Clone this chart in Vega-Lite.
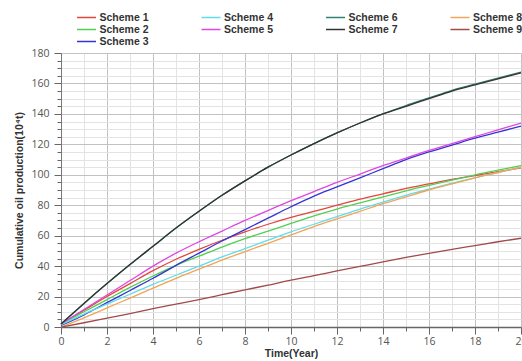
{
  "$schema": "https://vega.github.io/schema/vega-lite/v6.json",
  "width": 460,
  "height": 274,
  "autosize": {"type": "none"},
  "padding": {"left": 61, "top": 53, "right": 1, "bottom": 34},
  "background": "white",
  "config": {"view": {"stroke": null}, "font": "Open Sans"},
  "datasets": {
    "curves": [
      {"s":"Scheme 1","t":0,"v":2},{"s":"Scheme 1","t":1,"v":11},{"s":"Scheme 1","t":2,"v":20},{"s":"Scheme 1","t":3,"v":28.5},{"s":"Scheme 1","t":4,"v":37},{"s":"Scheme 1","t":5,"v":44.5},{"s":"Scheme 1","t":6,"v":51},{"s":"Scheme 1","t":7,"v":57},{"s":"Scheme 1","t":8,"v":62.5},{"s":"Scheme 1","t":9,"v":67.5},{"s":"Scheme 1","t":10,"v":72},{"s":"Scheme 1","t":11,"v":76},{"s":"Scheme 1","t":12,"v":80},{"s":"Scheme 1","t":13,"v":84},{"s":"Scheme 1","t":14,"v":87.5},{"s":"Scheme 1","t":15,"v":91},{"s":"Scheme 1","t":16,"v":94},{"s":"Scheme 1","t":17,"v":97},{"s":"Scheme 1","t":18,"v":99.5},{"s":"Scheme 1","t":19,"v":102},{"s":"Scheme 1","t":20,"v":104.5},
      {"s":"Scheme 2","t":0,"v":2},{"s":"Scheme 2","t":1,"v":10},{"s":"Scheme 2","t":2,"v":18},{"s":"Scheme 2","t":3,"v":26},{"s":"Scheme 2","t":4,"v":33.5},{"s":"Scheme 2","t":5,"v":40.5},{"s":"Scheme 2","t":6,"v":46.5},{"s":"Scheme 2","t":7,"v":52.5},{"s":"Scheme 2","t":8,"v":58},{"s":"Scheme 2","t":9,"v":63},{"s":"Scheme 2","t":10,"v":68},{"s":"Scheme 2","t":11,"v":73},{"s":"Scheme 2","t":12,"v":77.5},{"s":"Scheme 2","t":13,"v":81.5},{"s":"Scheme 2","t":14,"v":85.5},{"s":"Scheme 2","t":15,"v":89.5},{"s":"Scheme 2","t":16,"v":93},{"s":"Scheme 2","t":17,"v":96.5},{"s":"Scheme 2","t":18,"v":100},{"s":"Scheme 2","t":19,"v":103},{"s":"Scheme 2","t":20,"v":106},
      {"s":"Scheme 3","t":0,"v":1},{"s":"Scheme 3","t":1,"v":8},{"s":"Scheme 3","t":2,"v":16},{"s":"Scheme 3","t":3,"v":24},{"s":"Scheme 3","t":4,"v":32},{"s":"Scheme 3","t":5,"v":40.5},{"s":"Scheme 3","t":6,"v":48.5},{"s":"Scheme 3","t":7,"v":56.5},{"s":"Scheme 3","t":8,"v":64},{"s":"Scheme 3","t":9,"v":71.5},{"s":"Scheme 3","t":10,"v":79},{"s":"Scheme 3","t":11,"v":86},{"s":"Scheme 3","t":12,"v":92},{"s":"Scheme 3","t":13,"v":98},{"s":"Scheme 3","t":14,"v":104},{"s":"Scheme 3","t":15,"v":110},{"s":"Scheme 3","t":16,"v":115},{"s":"Scheme 3","t":17,"v":119.5},{"s":"Scheme 3","t":18,"v":124},{"s":"Scheme 3","t":19,"v":128},{"s":"Scheme 3","t":20,"v":132},
      {"s":"Scheme 4","t":0,"v":1.5},{"s":"Scheme 4","t":1,"v":8.5},{"s":"Scheme 4","t":2,"v":15},{"s":"Scheme 4","t":3,"v":21.5},{"s":"Scheme 4","t":4,"v":28},{"s":"Scheme 4","t":5,"v":34},{"s":"Scheme 4","t":6,"v":40},{"s":"Scheme 4","t":7,"v":46},{"s":"Scheme 4","t":8,"v":51.5},{"s":"Scheme 4","t":9,"v":57},{"s":"Scheme 4","t":10,"v":62.5},{"s":"Scheme 4","t":11,"v":67.5},{"s":"Scheme 4","t":12,"v":72.5},{"s":"Scheme 4","t":13,"v":77.5},{"s":"Scheme 4","t":14,"v":82},{"s":"Scheme 4","t":15,"v":86.5},{"s":"Scheme 4","t":16,"v":90.5},{"s":"Scheme 4","t":17,"v":94.5},{"s":"Scheme 4","t":18,"v":98},{"s":"Scheme 4","t":19,"v":101.5},{"s":"Scheme 4","t":20,"v":105},
      {"s":"Scheme 5","t":0,"v":2},{"s":"Scheme 5","t":1,"v":11.5},{"s":"Scheme 5","t":2,"v":21},{"s":"Scheme 5","t":3,"v":30.5},{"s":"Scheme 5","t":4,"v":40},{"s":"Scheme 5","t":5,"v":48.5},{"s":"Scheme 5","t":6,"v":56},{"s":"Scheme 5","t":7,"v":63},{"s":"Scheme 5","t":8,"v":70},{"s":"Scheme 5","t":9,"v":76.5},{"s":"Scheme 5","t":10,"v":83},{"s":"Scheme 5","t":11,"v":89},{"s":"Scheme 5","t":12,"v":95},{"s":"Scheme 5","t":13,"v":100.5},{"s":"Scheme 5","t":14,"v":106},{"s":"Scheme 5","t":15,"v":111},{"s":"Scheme 5","t":16,"v":116},{"s":"Scheme 5","t":17,"v":120.5},{"s":"Scheme 5","t":18,"v":125},{"s":"Scheme 5","t":19,"v":129.5},{"s":"Scheme 5","t":20,"v":134},
      {"s":"Scheme 6","t":0,"v":2},{"s":"Scheme 6","t":1,"v":15.5},{"s":"Scheme 6","t":2,"v":28.5},{"s":"Scheme 6","t":3,"v":41},{"s":"Scheme 6","t":4,"v":53},{"s":"Scheme 6","t":5,"v":65},{"s":"Scheme 6","t":6,"v":76},{"s":"Scheme 6","t":7,"v":86.5},{"s":"Scheme 6","t":8,"v":96},{"s":"Scheme 6","t":9,"v":105},{"s":"Scheme 6","t":10,"v":113},{"s":"Scheme 6","t":11,"v":120.5},{"s":"Scheme 6","t":12,"v":127.5},{"s":"Scheme 6","t":13,"v":134},{"s":"Scheme 6","t":14,"v":140},{"s":"Scheme 6","t":15,"v":145.5},{"s":"Scheme 6","t":16,"v":150.5},{"s":"Scheme 6","t":17,"v":155.5},{"s":"Scheme 6","t":18,"v":159.5},{"s":"Scheme 6","t":19,"v":163.5},{"s":"Scheme 6","t":20,"v":167.5},
      {"s":"Scheme 7","t":0,"v":2},{"s":"Scheme 7","t":1,"v":15.5},{"s":"Scheme 7","t":2,"v":28.5},{"s":"Scheme 7","t":3,"v":41},{"s":"Scheme 7","t":4,"v":53},{"s":"Scheme 7","t":5,"v":65},{"s":"Scheme 7","t":6,"v":76},{"s":"Scheme 7","t":7,"v":86.5},{"s":"Scheme 7","t":8,"v":96},{"s":"Scheme 7","t":9,"v":105},{"s":"Scheme 7","t":10,"v":113},{"s":"Scheme 7","t":11,"v":120.5},{"s":"Scheme 7","t":12,"v":127.5},{"s":"Scheme 7","t":13,"v":134},{"s":"Scheme 7","t":14,"v":140},{"s":"Scheme 7","t":15,"v":145},{"s":"Scheme 7","t":16,"v":150},{"s":"Scheme 7","t":17,"v":155},{"s":"Scheme 7","t":18,"v":159},{"s":"Scheme 7","t":19,"v":163},{"s":"Scheme 7","t":20,"v":167},
      {"s":"Scheme 8","t":0,"v":0},{"s":"Scheme 8","t":1,"v":6},{"s":"Scheme 8","t":2,"v":12.5},{"s":"Scheme 8","t":3,"v":19},{"s":"Scheme 8","t":4,"v":25.5},{"s":"Scheme 8","t":5,"v":32},{"s":"Scheme 8","t":6,"v":38},{"s":"Scheme 8","t":7,"v":44},{"s":"Scheme 8","t":8,"v":49.5},{"s":"Scheme 8","t":9,"v":55},{"s":"Scheme 8","t":10,"v":60.5},{"s":"Scheme 8","t":11,"v":66},{"s":"Scheme 8","t":12,"v":71},{"s":"Scheme 8","t":13,"v":76},{"s":"Scheme 8","t":14,"v":81},{"s":"Scheme 8","t":15,"v":85.5},{"s":"Scheme 8","t":16,"v":90},{"s":"Scheme 8","t":17,"v":94},{"s":"Scheme 8","t":18,"v":98},{"s":"Scheme 8","t":19,"v":101.5},{"s":"Scheme 8","t":20,"v":105},
      {"s":"Scheme 9","t":0,"v":0},{"s":"Scheme 9","t":1,"v":2.8},{"s":"Scheme 9","t":2,"v":5.8},{"s":"Scheme 9","t":3,"v":8.8},{"s":"Scheme 9","t":4,"v":12},{"s":"Scheme 9","t":5,"v":15},{"s":"Scheme 9","t":6,"v":18},{"s":"Scheme 9","t":7,"v":21.2},{"s":"Scheme 9","t":8,"v":24.4},{"s":"Scheme 9","t":9,"v":27.5},{"s":"Scheme 9","t":10,"v":30.8},{"s":"Scheme 9","t":11,"v":33.8},{"s":"Scheme 9","t":12,"v":36.8},{"s":"Scheme 9","t":13,"v":39.8},{"s":"Scheme 9","t":14,"v":42.8},{"s":"Scheme 9","t":15,"v":45.7},{"s":"Scheme 9","t":16,"v":48.4},{"s":"Scheme 9","t":17,"v":51},{"s":"Scheme 9","t":18,"v":53.5},{"s":"Scheme 9","t":19,"v":56},{"s":"Scheme 9","t":20,"v":58.3}
    ]
  },
  "data": {"name": "curves"},
  "mark": {"type": "line", "strokeWidth": 1.3, "interpolate": "monotone"},
  "encoding": {
    "x": {"field": "t", "type": "quantitative", "scale": {"domain": [0, 20], "nice": false},
      "axis": {"orient": "bottom", "format": "d",
        "values": [0,0.5,1,1.5,2,2.5,3,3.5,4,4.5,5,5.5,6,6.5,7,7.5,8,8.5,9,9.5,10,10.5,11,11.5,12,12.5,13,13.5,14,14.5,15,15.5,16,16.5,17,17.5,18,18.5,19,19.5,20],
        "labelExpr": "datum.value % 2 === 0 ? datum.label : ''", "labelOverlap": false,
        "title": "Time(Year)", "titleFont": "Liberation Sans", "titleFontWeight": "bold", "titleFontSize": 10.5, "titleColor": "#333", "titlePadding": 2,
        "labelFont": "Open Sans", "labelFontSize": 10.5, "labelColor": "#555", "labelPadding": 2, "labelFlush": false,
        "tickSize": {"condition": {"test": "datum.value % 2 === 0", "value": 7}, "value": 4},
        "tickColor": "#666", "domain": true, "domainColor": "#666", "domainWidth": 1.5,
        "grid": true, "gridWidth": 1,
        "gridColor": {"condition": {"test": "datum.value % 2 === 0", "value": "#c2c2c2"}, "value": "#e3e3e3"}}},
    "y": {"field": "v", "type": "quantitative", "scale": {"domain": [0, 180], "nice": false},
      "axis": {"orient": "left", "format": "d",
        "values": [0,5,10,15,20,25,30,35,40,45,50,55,60,65,70,75,80,85,90,95,100,105,110,115,120,125,130,135,140,145,150,155,160,165,170,175,180],
        "labelExpr": "datum.value % 20 === 0 ? datum.label : ''", "labelOverlap": false,
        "title": "Cumulative oil production(10⁴t)", "titleFont": "Liberation Sans", "titleFontWeight": "bold", "titleFontSize": 10.5, "titleColor": "#333", "titlePadding": 6,
        "labelFont": "Open Sans", "labelFontSize": 10.5, "labelColor": "#555", "labelPadding": 5, "labelFlush": false,
        "tickSize": {"condition": {"test": "datum.value % 20 === 0", "value": 7}, "value": 4},
        "tickColor": "#666", "domain": true, "domainColor": "#777", "domainWidth": 1,
        "grid": true, "gridWidth": 1,
        "gridColor": {"condition": {"test": "datum.value % 20 === 0", "value": "#c2c2c2"}, "value": "#e3e3e3"}}},
    "color": {"field": "s", "type": "nominal",
      "scale": {"domain": ["Scheme 1","Scheme 4","Scheme 6","Scheme 8","Scheme 2","Scheme 5","Scheme 7","Scheme 9","Scheme 3"],
                "range": ["#e2473e","#62dde6","#2e8272","#f2a458","#52cf52","#e046e0","#333333","#a04a4a","#3434d4"]},
      "legend": {"orient": "none", "direction": "horizontal", "legendX": 20, "legendY": -41, "columns": 4, "title": null, "padding": 0,
        "symbolType": "M-2,0H2", "symbolSize": 90, "symbolStrokeWidth": 1.5,
        "labelFont": "Liberation Sans", "labelFontWeight": "bold", "labelFontSize": 10.5, "labelColor": "#333", "labelOffset": 7.5,
        "columnPadding": 49.5, "rowPadding": 1}}
  }
}
